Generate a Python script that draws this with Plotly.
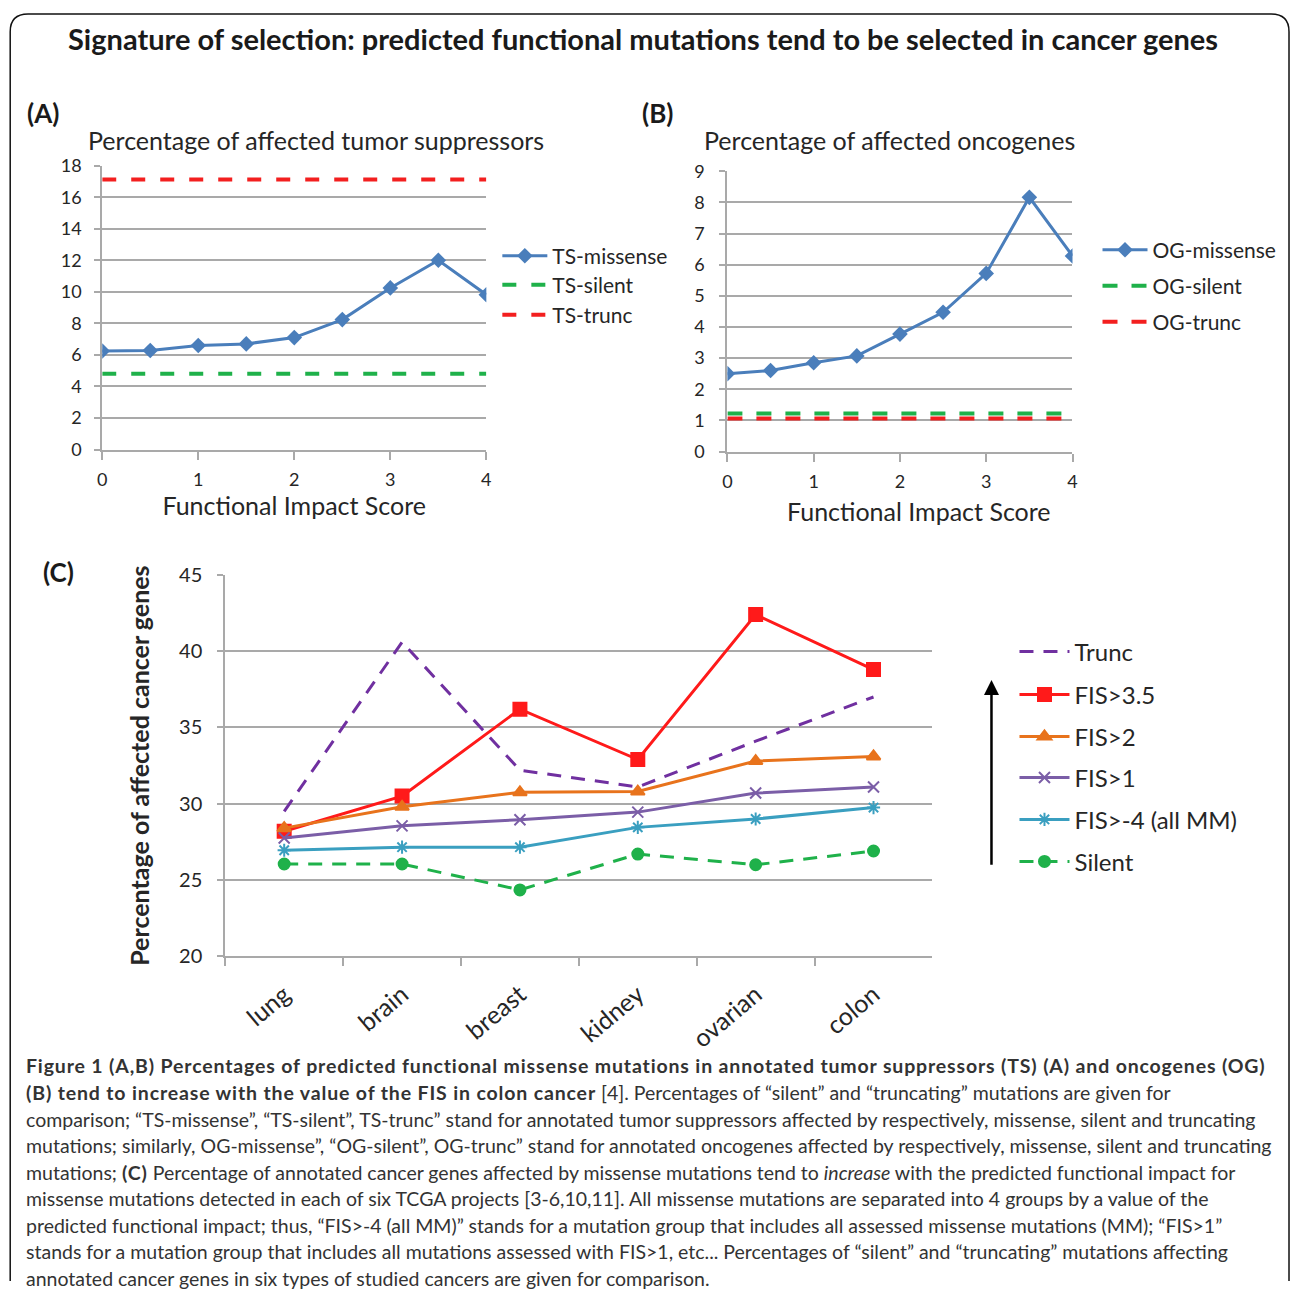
import plotly.graph_objects as go

# ---- data -------------------------------------------------------------
fis_scores = [0, 0.5, 1, 1.5, 2, 2.5, 3, 3.5, 4]
fis_ticks = [0, 1, 2, 3, 4]

ts_missense = [6.25, 6.28, 6.6, 6.7, 7.1, 8.24, 10.25, 12.0, 9.82]
ts_silent = 4.8
ts_trunc = 17.13

og_missense = [2.5, 2.6, 2.85, 3.07, 3.77, 4.47, 5.72, 8.16, 6.28]
og_silent = 1.22
og_trunc = 1.06

cancer_types = ["lung", "brain", "breast", "kidney", "ovarian", "colon"]
trunc = [29.5, 40.6, 32.2, 31.1, 34.1, 37.0]
fis_gt_35 = [28.2, 30.5, 36.2, 32.9, 42.4, 38.8]
fis_gt_2 = [28.4, 29.8, 30.75, 30.8, 32.8, 33.1]
fis_gt_1 = [27.75, 28.55, 28.95, 29.45, 30.7, 31.1]
fis_gt_m4 = [26.95, 27.15, 27.15, 28.45, 29.0, 29.75]
silent = [26.05, 26.05, 24.35, 26.7, 26.0, 26.9]

W, H = 1295, 1292
FONT = "Lato"
GRID = "#a9a9a9"
TXT = "#262626"

# layout grid: positions below are given in a pixel frame that is mapped
# onto the page with a slight inset
SX, OX = 0.992, 4.8
SY, OY = 0.982, 12.7


def px(x):
    return min(max(((x - OX) / SX) / W, 0), 1)


def py(y):
    return min(max(1 - ((y - OY) / SY) / H, 0), 1)


fig = go.Figure()

# ---- panel A: tumor suppressors --------------------------------------
fig.add_trace(go.Scatter(
    x=fis_scores, y=ts_missense, name="TS-missense", xaxis="x", yaxis="y",
    mode="lines+markers", line=dict(color="#4a7ebb", width=3),
    marker=dict(symbol="diamond", size=12, color="#4a7ebb"), legend="legend"))
fig.add_trace(go.Scatter(
    x=[fis_scores[0], fis_scores[-1]], y=[ts_silent, ts_silent], name="TS-silent",
    xaxis="x", yaxis="y", mode="lines",
    line=dict(color="#1fb14a", width=4, dash="14px,15px"), legend="legend2"))
fig.add_trace(go.Scatter(
    x=[fis_scores[0], fis_scores[-1]], y=[ts_trunc, ts_trunc], name="TS-trunc",
    xaxis="x", yaxis="y", mode="lines",
    line=dict(color="#f31f1f", width=4, dash="14px,15px"), legend="legend3"))

# ---- panel B: oncogenes ----------------------------------------------
fig.add_trace(go.Scatter(
    x=fis_scores, y=og_missense, name="OG-missense", xaxis="x2", yaxis="y2",
    mode="lines+markers", line=dict(color="#4a7ebb", width=3),
    marker=dict(symbol="diamond", size=12, color="#4a7ebb"), legend="legend4"))
fig.add_trace(go.Scatter(
    x=[fis_scores[0], fis_scores[-1]], y=[og_silent, og_silent], name="OG-silent",
    xaxis="x2", yaxis="y2", mode="lines",
    line=dict(color="#1fb14a", width=4, dash="15px,14px"), legend="legend5"))
fig.add_trace(go.Scatter(
    x=[fis_scores[0], fis_scores[-1]], y=[og_trunc, og_trunc], name="OG-trunc",
    xaxis="x2", yaxis="y2", mode="lines",
    line=dict(color="#f31f1f", width=4, dash="15px,14px"), legend="legend6"))

# ---- panel C: cancer types -------------------------------------------
panel_c = [
    ("Trunc", trunc, "#7030a0", "dash", None, 0),
    ("FIS>3.5", fis_gt_35, "#ff1a1a", "solid", "square", 13),
    ("FIS>2", fis_gt_2, "#e8731c", "solid", "triangle-up", 12),
    ("FIS>1", fis_gt_1, "#7b5ea7", "solid", "x-thin-open", 11),
    ("FIS>-4 (all MM)", fis_gt_m4, "#3a9fc0", "solid", "asterisk-open", 11),
    ("Silent", silent, "#1fb14a", "dash", "circle", 11),
]
for i, (name, vals, col, dash, sym, size) in enumerate(panel_c):
    kw = dict(x=cancer_types, y=vals, name=name, xaxis="x3", yaxis="y3",
              legend=f"legend{7 + i}")
    d = "14px,10px" if dash == "dash" else "solid"
    if sym is None:
        fig.add_trace(go.Scatter(mode="lines", line=dict(color=col, width=3, dash=d), **kw))
    else:
        fig.add_trace(go.Scatter(
            mode="lines+markers", line=dict(color=col, width=3, dash=d),
            marker=dict(symbol=sym, size=size, color=col, line=dict(color=col, width=2)),
            **kw))

# ---- axes ------------------------------------------------------------
tick_font = dict(family=FONT, size=18, color=TXT)
common_y = dict(showgrid=True, gridcolor=GRID, gridwidth=2, zeroline=False,
                showline=True, linecolor=GRID, linewidth=2,
                ticks="outside", ticklen=6, tickcolor=GRID,
                tickwidth=2, tickfont=tick_font, fixedrange=True)
common_x = dict(showgrid=False, zeroline=False, showline=True, linecolor=GRID,
                linewidth=2, ticks="outside", ticklen=8, tickcolor=GRID, tickwidth=2,
                tickfont=tick_font, fixedrange=True)
xtitle_font = dict(family=FONT, size=25, color=TXT)

fig.update_layout(
    xaxis=dict(domain=[px(102), px(486)], range=[0, 4], tickvals=fis_ticks,
               anchor="y", ticklabelstandoff=5,
               title=dict(text="Functional Impact Score", font=xtitle_font, standoff=3),
               **common_x),
    yaxis=dict(domain=[py(449.5), py(165.5)], range=[0, 18], dtick=2, anchor="x",
               ticklabelstandoff=9, **common_y),
    xaxis2=dict(domain=[px(727), px(1072)], range=[0, 4], tickvals=fis_ticks,
                anchor="y2", ticklabelstandoff=5, **common_x),
    yaxis2=dict(domain=[py(451.5), py(171)], range=[0, 9], dtick=1, anchor="x2",
                ticklabelstandoff=11, **common_y),
    xaxis3=dict(domain=[px(225), px(932)], range=[-0.5, 5.5], anchor="y3",
                tickangle=-40, tickson="boundaries", ticklabelstandoff=12,
                **{**common_x, "tickfont": dict(family=FONT, size=25, color=TXT)}),
    yaxis3=dict(domain=[py(956.5), py(575)], range=[20, 45], dtick=5, anchor="x3",
                ticklabelstandoff=11,
                title=dict(text="<b>Percentage of affected cancer genes</b>",
                           font=dict(family=FONT, size=25, color=TXT), standoff=22),
                **{**common_y, "tickfont": dict(family=FONT, size=20, color=TXT)}),
)

# ---- legends (one per entry so each can be placed freely) -----------------
leg_pos = {
    "legend": (497, 256), "legend2": (497, 285), "legend3": (497, 315),
    "legend4": (1097, 250), "legend5": (1097, 286), "legend6": (1097, 322),
    "legend7": (1014, 652), "legend8": (1014, 695), "legend9": (1014, 737),
    "legend10": (1014, 778), "legend11": (1014, 820), "legend12": (1014, 862),
}
for key, (lx, ly) in leg_pos.items():
    big = int(key[6:] or 1) >= 7
    fig.update_layout({key: dict(
        x=px(lx), y=py(ly), xanchor="left", yanchor="middle", xref="paper",
        yref="paper", bgcolor="rgba(0,0,0,0)", borderwidth=0,
        itemwidth=50 if big else 45,
        font=dict(family=FONT, size=24 if big else 21, color=TXT),
        tracegroupgap=0)})

# ---- text --------------------------------------------------------------
ann = []
ann.append(dict(text="<b>Signature of selection: predicted functional mutations tend to be selected in cancer genes</b>",
                x=px(643), y=py(38), xanchor="center",
                font=dict(family=FONT, size=29, color="#1a1a1a")))
ann.append(dict(text="Percentage of affected tumor suppressors", x=px(316), y=py(140),
                xanchor="center", font=dict(family=FONT, size=25, color=TXT)))
ann.append(dict(text="Percentage of affected oncogenes", x=px(889), y=py(140),
                xanchor="center", font=dict(family=FONT, size=25, color=TXT)))
ann.append(dict(text="Functional Impact Score", x=px(919), y=py(511),
                xanchor="center", font=xtitle_font))
for lab, lx, ly in [("(A)", 25, 113), ("(B)", 640, 113), ("(C)", 41, 572)]:
    ann.append(dict(text=f"<b>{lab}</b>", x=px(lx), y=py(ly), xanchor="left",
                    font=dict(family=FONT, size=26, color="#1a1a1a")))


def bold(s):
    return f'<b><span style="letter-spacing:0.85px">{s}</span></b>'


caption = [
    bold("Figure 1 (A,B) Percentages of predicted functional missense mutations in annotated tumor suppressors (TS) (A) and oncogenes (OG)"),
    bold("(B) tend to increase with the value of the FIS in colon cancer") + " [4]. Percentages of “silent” and “truncating” mutations are given for",
    "comparison; “TS-missense”, “TS-silent”, TS-trunc” stand for annotated tumor suppressors affected by respectively, missense, silent and truncating",
    "mutations; similarly, OG-missense”, “OG-silent”, OG-trunc” stand for annotated oncogenes affected by respectively, missense, silent and truncating",
    "mutations; " + bold("(C)") + " Percentage of annotated cancer genes affected by missense mutations tend to <i>increase</i> with the predicted functional impact for",
    "missense mutations detected in each of six TCGA projects [3-6,10,11]. All missense mutations are separated into 4 groups by a value of the",
    "predicted functional impact; thus, “FIS&gt;-4 (all MM)” stands for a mutation group that includes all assessed missense mutations (MM); “FIS&gt;1”",
    "stands for a mutation group that includes all mutations assessed with FIS&gt;1, etc... Percentages of “silent” and “truncating” mutations affecting",
    "annotated cancer genes in six types of studied cancers are given for comparison.",
]
cap_y = [1066, 1093, 1120, 1146, 1173, 1199, 1226, 1252, 1279]
for t, cy in zip(caption, cap_y):
    ann.append(dict(text=t, x=px(24), y=py(cy), xanchor="left",
                    font=dict(family=FONT, size=19.5, color="#333333")))

# arrow beside the panel C legend
ann.append(dict(text="", x=px(991), y=py(680), xref="paper", yref="paper",
                showarrow=True, ax=0, ay=183 / SY, axref="pixel", ayref="pixel",
                arrowhead=2, arrowsize=1.2, arrowwidth=2.5, arrowcolor="#000000"))

for a in ann:
    a.setdefault("xref", "paper")
    a.setdefault("yref", "paper")
    a.setdefault("showarrow", False)
    a.setdefault("yanchor", "middle")
fig.update_layout(annotations=ann)

# rounded outer frame, open at the bottom edge of the page
r = 18 / W
fx0, fx1 = px(10), min(px(1292), 1 - 1 / W)
fy0, fy1 = 1 - 1 / H, 0
rv = 18 / H
fig.add_shape(type="path", xref="paper", yref="paper",
              path=(f"M {fx0},{fy1} L {fx0},{fy0 - rv} Q {fx0},{fy0} {fx0 + r},{fy0} "
                    f"L {fx1 - r},{fy0} Q {fx1},{fy0} {fx1},{fy0 - rv} L {fx1},{fy1}"),
              line=dict(color="#111111", width=1.5))

fig.update_layout(
    width=W, height=H, margin=dict(l=0, r=0, t=0, b=0),
    paper_bgcolor="white", plot_bgcolor="white", showlegend=True,
    font=dict(family=FONT, color=TXT),
)

fig.write_html(
    "out.html",
    post_script="document.body.style.margin='0';document.body.style.overflow='hidden';",
)
